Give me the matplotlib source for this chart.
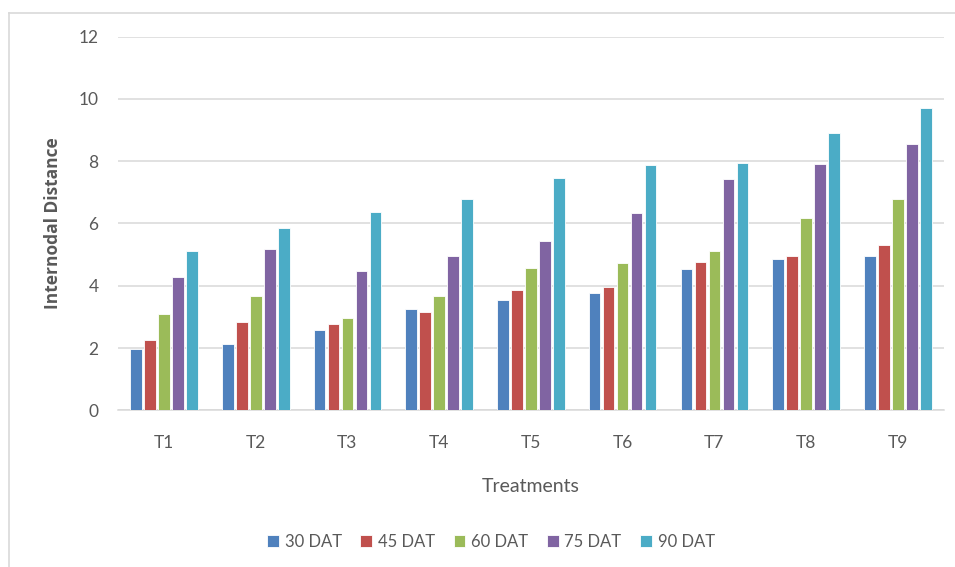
import numpy as np
import matplotlib.pyplot as plt
from matplotlib.lines import Line2D

# Data
treatments = ['T1', 'T2', 'T3', 'T4', 'T5', 'T6', 'T7', 'T8', 'T9']
series_names = ['30 DAT', '45 DAT', '60 DAT', '75 DAT', '90 DAT']
dat30 = [1.96, 2.13, 2.58, 3.25, 3.54, 3.77, 4.54, 4.85, 4.96]
dat45 = [2.26, 2.84, 2.77, 3.16, 3.87, 3.95, 4.76, 4.95, 5.32]
dat60 = [3.09, 3.66, 2.97, 3.66, 4.56, 4.72, 5.11, 6.18, 6.77]
dat75 = [4.27, 5.18, 4.48, 4.95, 5.43, 6.34, 7.43, 7.91, 8.55]
dat90 = [5.11, 5.87, 6.37, 6.78, 7.46, 7.87, 7.93, 8.89, 9.70]
colors = ['#4F81BD', '#C0504D', '#9BBB59', '#8064A2', '#4BACC6']

series = [dat30, dat45, dat60, dat75, dat90]

fontName = 'Lato'
textColor = '#595959'

fig = plt.figure(figsize=(9.55, 5.67), dpi=100)
ax = fig.add_axes([0.1236, 0.2764, 0.8646, 0.659])

x = np.arange(len(treatments))
pitch = 0.1526
for i, (vals, c, name) in enumerate(zip(series, colors, series_names)):
    ax.bar(x + (i - 2) * pitch, vals, width=0.128, color=c, label=name,
           edgecolor='white', linewidth=0.6, zorder=3)

ax.set_xlim(-0.5, len(treatments) - 0.5)
ax.set_ylim(0, 12)
ax.set_yticks(np.arange(0, 13, 2))
ax.set_xticks(x)
ax.set_xticklabels(treatments)
ax.grid(axis='y', color='#D9D9D9', linewidth=1.1, zorder=0)
ax.set_axisbelow(True)
for s in ['top', 'right', 'left']:
    ax.spines[s].set_visible(False)
ax.spines['bottom'].set_color('#D9D9D9')
ax.spines['bottom'].set_linewidth(1.1)
ax.tick_params(axis='both', length=0, labelsize=12.5, labelcolor=textColor)
ax.tick_params(axis='y', pad=14)
ax.tick_params(axis='x', pad=18)
for lab in ax.get_xticklabels() + ax.get_yticklabels():
    lab.set_fontname(fontName)

ax.set_xlabel('Treatments', fontsize=14, color=textColor, fontname=fontName,
              labelpad=19)
ax.set_ylabel('Internodal Distance', fontsize=12.5, color=textColor,
              fontname='Open Sans', fontweight='bold', labelpad=12)

# Legend below the plot
leg = fig.legend(loc='center', bbox_to_anchor=(491 / 955, 1 - 542 / 567),
                 ncol=5, frameon=False, handlelength=0.7, handleheight=0.7,
                 handletextpad=0.35, columnspacing=1.12,
                 prop={'family': fontName, 'size': 12})
for t in leg.get_texts():
    t.set_color(textColor)

# Chart-area border (left and top edges visible)
fig.add_artist(Line2D([8.5 / 955, 8.5 / 955], [0, 1 - 13 / 567],
                      transform=fig.transFigure, color='#D9D9D9', lw=1.2))
fig.add_artist(Line2D([8.5 / 955, 1], [1 - 13 / 567, 1 - 13 / 567],
                      transform=fig.transFigure, color='#D9D9D9', lw=1.2))

fig.savefig('out.png', dpi=100)
